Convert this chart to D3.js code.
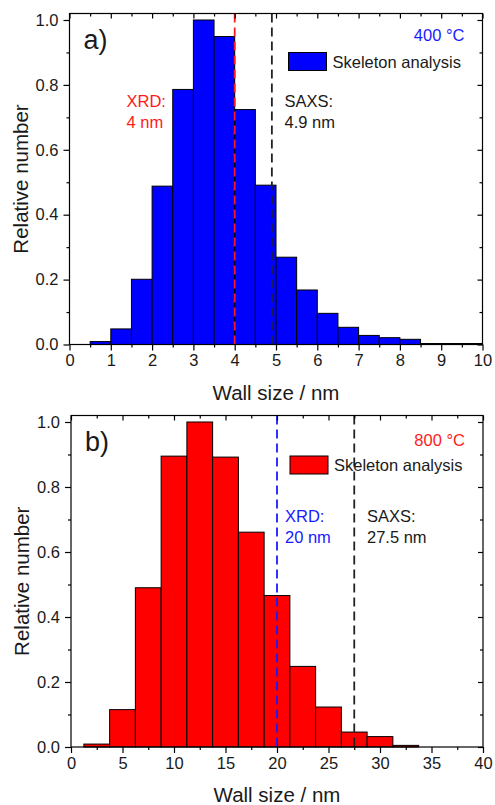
<!DOCTYPE html>
<html>
<head>
<meta charset="utf-8">
<script src="https://cdn.jsdelivr.net/npm/d3@7"></script>
<style>
  body { margin: 0; background: #fff; }
  text { font-family: "Liberation Sans", Arial, sans-serif; fill: #1a1a1a; }
</style>
</head>
<body>
<div id="chart"></div>
<script>
// panel a) 400 °C, bins of 0.5 nm
const centersA = [0.75, 1.25, 1.75, 2.25, 2.75, 3.25, 3.75, 4.25, 4.75, 5.25, 5.75, 6.25, 6.75, 7.25, 7.75, 8.25, 8.75, 9.25, 9.75];
const valuesA  = [0.009, 0.048, 0.201, 0.488, 0.786, 1.0, 0.949, 0.724, 0.491, 0.269, 0.168, 0.096, 0.053, 0.028, 0.021, 0.016, 0.003, 0.003, 0.003];
const binWidthA = 0.5;
const xTicksA = [0, 1, 2, 3, 4, 5, 6, 7, 8, 9, 10];

// panel b) 800 °C, bins of 2.5 nm
const centersB = [2.5, 5, 7.5, 10, 12.5, 15, 17.5, 20, 22.5, 25, 27.5, 30, 32.5];
const valuesB  = [0.009, 0.115, 0.49, 0.895, 1.0, 0.892, 0.661, 0.466, 0.248, 0.123, 0.046, 0.032, 0.005];
const binWidthB = 2.5;
const xTicksB = [0, 5, 10, 15, 20, 25, 30, 35, 40];

const yTicks = [0, 0.2, 0.4, 0.6, 0.8, 1.0];

const W = 495, H = 805;
const svg = d3.select("#chart").append("svg").attr("width", W).attr("height", H);

function drawPanel(o) {
  const g = svg.append("g").attr("transform", "translate(" + o.left + "," + o.top + ")");
  const x = d3.scaleLinear().domain(o.xDomain).range([0, o.width]);
  const y = d3.scaleLinear().domain([0, 1.02]).range([o.height, 0]);

  // bars
  g.selectAll(".bar").data(o.centers).enter().append("rect")
    .attr("x", d => x(d - o.binWidth / 2))
    .attr("width", d => x(d + o.binWidth / 2) - x(d - o.binWidth / 2))
    .attr("y", (d, i) => y(o.values[i]))
    .attr("height", (d, i) => y(0) - y(o.values[i]))
    .attr("fill", o.color)
    .attr("stroke", "#000")
    .attr("stroke-width", 1);

  // dashed reference lines
  const refs = [{v: o.xrd, c: o.xrdColor}, {v: o.saxs, c: "#222"}];
  g.selectAll(".ref").data(refs).enter().append("line")
    .attr("x1", d => x(d.v)).attr("x2", d => x(d.v))
    .attr("y1", y(1.02)).attr("y2", y(0))
    .attr("stroke", d => d.c)
    .attr("stroke-width", 1.8)
    .attr("stroke-dasharray", "9,5");

  // axes
  const step = o.xTicks[1] - o.xTicks[0];
  const xMinor = o.xTicks.slice(0, -1).map(t => t + step / 2);
  const yMinor = yTicks.slice(0, -1).map(t => t + 0.1);

  const styleAxis = sel => {
    sel.select(".domain").remove();
    sel.selectAll("line").attr("stroke", "#000").attr("stroke-width", 1.2);
    sel.selectAll("text").style("font-size", "16.5px").attr("fill", "#1a1a1a");
  };

  g.append("g").attr("transform", "translate(0," + o.height + ")")
    .call(d3.axisBottom(x).tickValues(o.xTicks).tickSize(6).tickPadding(4).tickFormat(d3.format("d")))
    .call(styleAxis);
  g.append("g").attr("transform", "translate(0," + o.height + ")")
    .call(d3.axisBottom(x).tickValues(xMinor).tickSize(3).tickFormat(""))
    .call(styleAxis);
  g.append("g")
    .call(d3.axisLeft(y).tickValues(yTicks).tickSize(6).tickPadding(5).tickFormat(d3.format(".1f")))
    .call(styleAxis);
  g.append("g")
    .call(d3.axisLeft(y).tickValues(yMinor).tickSize(3).tickFormat(""))
    .call(styleAxis);
  // mirrored inward ticks on top and right
  g.append("g")
    .call(d3.axisTop(x).tickValues(o.xTicks).tickSize(-5).tickFormat(""))
    .call(styleAxis);
  g.append("g")
    .call(d3.axisTop(x).tickValues(xMinor).tickSize(-3).tickFormat(""))
    .call(styleAxis);
  g.append("g").attr("transform", "translate(" + o.width + ",0)")
    .call(d3.axisRight(y).tickValues(yTicks).tickSize(-5).tickFormat(""))
    .call(styleAxis);
  g.append("g").attr("transform", "translate(" + o.width + ",0)")
    .call(d3.axisRight(y).tickValues(yMinor).tickSize(-3).tickFormat(""))
    .call(styleAxis);

  // frame
  g.append("rect").attr("width", o.width).attr("height", o.height)
    .attr("fill", "none").attr("stroke", "#000").attr("stroke-width", 1.2);

  // axis titles
  g.append("text")
    .attr("x", o.width / 2).attr("y", o.height + 55)
    .attr("text-anchor", "middle").style("font-size", "20.5px")
    .text("Wall size / nm");
  g.append("text")
    .attr("transform", "translate(" + (-42) + "," + (o.height / 2) + ") rotate(-90)")
    .attr("text-anchor", "middle").style("font-size", "20.5px")
    .text("Relative number");

  // panel label and temperature
  g.append("text").attr("x", 14).attr("y", 35).style("font-size", "27px").text(o.label);
  g.append("text").attr("x", o.width - 18).attr("y", o.tempY)
    .attr("text-anchor", "end").style("font-size", "16.5px")
    .style("fill", o.tempColor).text(o.temp);

  // legend
  g.append("rect").attr("x", 219).attr("y", o.legY).attr("width", 38).attr("height", 18)
    .attr("fill", o.color).attr("stroke", "#000").attr("stroke-width", 1);
  g.append("text").attr("x", 263).attr("y", o.legY + 15).style("font-size", "16.5px")
    .text("Skeleton analysis");

  // annotations
  o.notes.forEach(n => {
    const t = g.append("text").attr("x", n.x).attr("y", n.y).style("font-size", "16.5px").style("fill", n.c);
    t.append("tspan").attr("x", n.x).text(n.l1);
    t.append("tspan").attr("x", n.x).attr("dy", 21.5).text(n.l2);
  });
}

drawPanel({
  left: 69.5, top: 13.5, width: 413, height: 331,
  xDomain: [0, 10], xTicks: xTicksA,
  centers: centersA, values: valuesA, binWidth: binWidthA,
  color: "#0000ff", xrd: 4, xrdColor: "#ff1a1a", saxs: 4.9,
  label: "a)", temp: "400 °C", tempColor: "#1a1aff", tempY: 27, legY: 39,
  notes: [
    {x: 57, y: 93, l1: "XRD:", l2: "4 nm", c: "#ff1a1a"},
    {x: 215, y: 93, l1: "SAXS:", l2: "4.9 nm", c: "#1a1a1a"}
  ]
});

drawPanel({
  left: 71, top: 415.5, width: 412, height: 331.5,
  xDomain: [0, 40], xTicks: xTicksB,
  centers: centersB, values: valuesB, binWidth: binWidthB,
  color: "#ff0000", xrd: 20, xrdColor: "#1a1aff", saxs: 27.5,
  label: "b)", temp: "800 °C", tempColor: "#ff1a1a", tempY: 30, legY: 40.5,
  notes: [
    {x: 214, y: 106, l1: "XRD:", l2: "20 nm", c: "#1a1aff"},
    {x: 296, y: 106, l1: "SAXS:", l2: "27.5 nm", c: "#1a1a1a"}
  ]
});
</script>
</body>
</html>
